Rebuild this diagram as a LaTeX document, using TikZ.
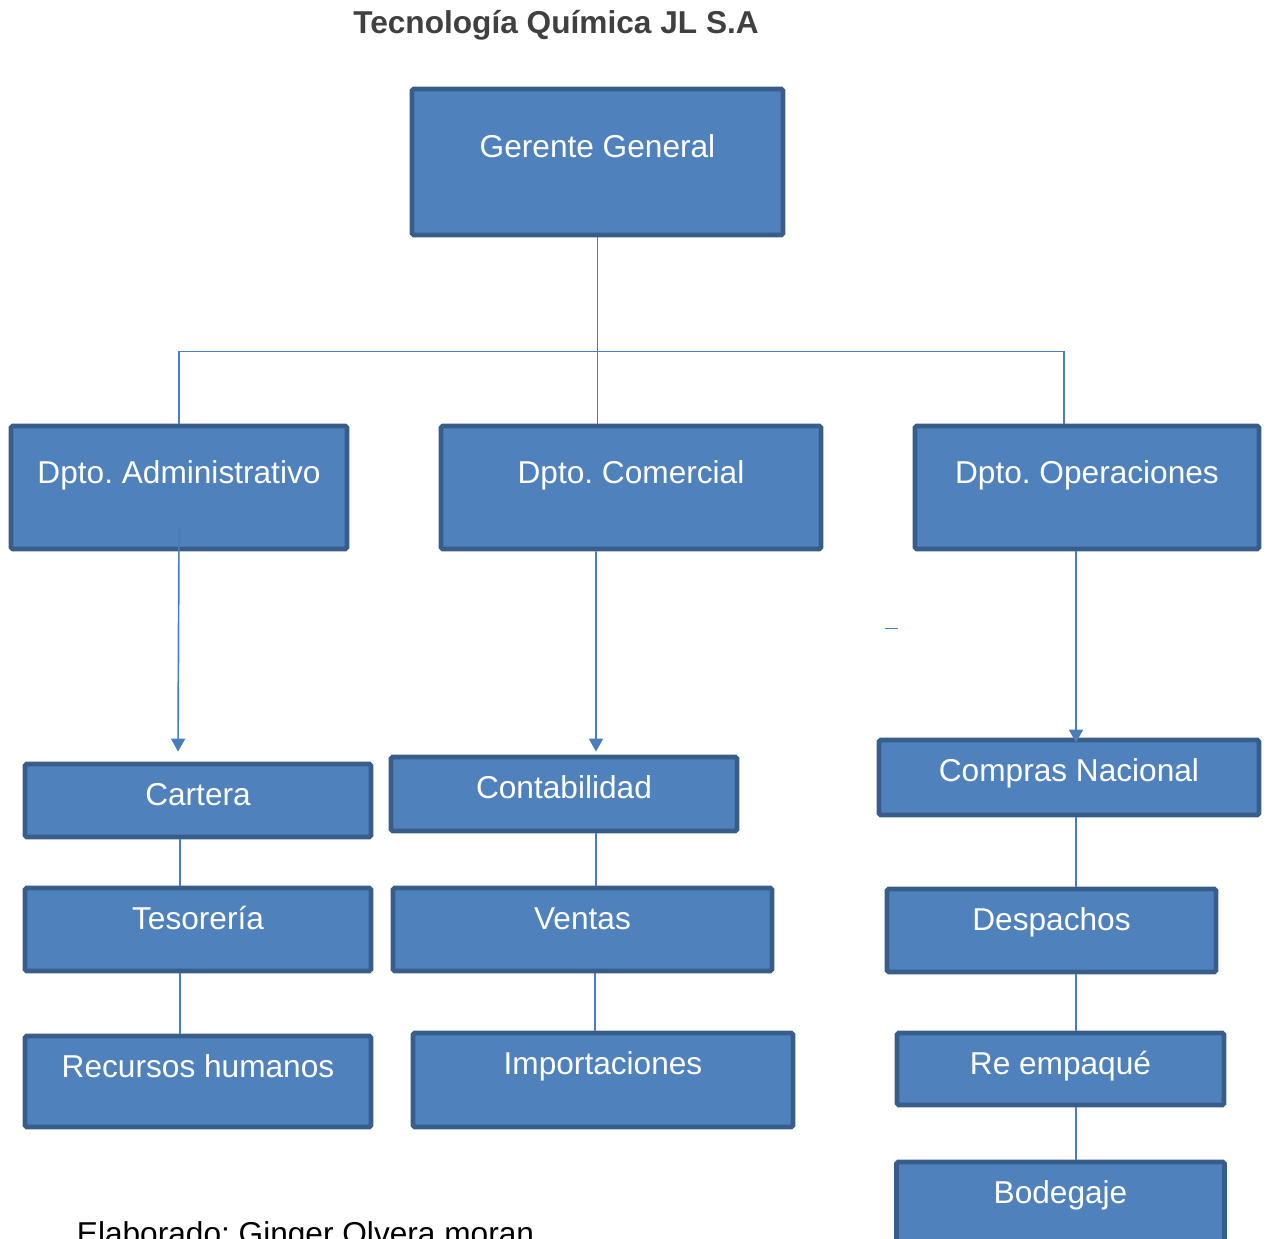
\documentclass[tikz,border=0pt]{standalone}
\usepackage{fontspec}
\setmainfont{Liberation Sans}
\usepackage{tikz}
\usetikzlibrary{shapes,arrows.meta}
\frenchspacing
\definecolor{boxblue}{RGB}{79,129,189}
\definecolor{boxborder}{RGB}{56,93,138}
\definecolor{linkblue}{RGB}{74,126,187}
\definecolor{titlegray}{RGB}{64,64,64}
\tikzstyle{box} = [rectangle, draw=boxborder, fill=boxblue, line width=2.7pt, rounded corners=1pt,
    text=white, font=\fontsize{18}{22}\selectfont, inner ysep=0pt, text height=0.82cm]
\tikzstyle{topbox} = [box, text height=1.36cm, text depth=1.56cm, minimum width=7.42cm]
\tikzstyle{deptbox} = [box, text height=1.14cm, text depth=1.32cm]
\tikzstyle{line} = [draw=linkblue, line width=0.95pt]
\tikzstyle{arrow} = [line, -{Triangle[width=0.28cm,length=0.26cm]}]
\tikzstyle{title} = [text=titlegray, font=\fontsize{18}{22}\selectfont\bfseries]
\tikzstyle{note} = [text=black, font=\fontsize{18}{22}\selectfont]

\begin{document}
\begin{tikzpicture}[node distance = 2cm, auto]
    \useasboundingbox (-11.95,-21.52) rectangle (13.39,3.24);
    % Place nodes
    \node [topbox] (gerente) {Gerente General};
    \node [title, above of=gerente, node distance=2.58cm, xshift=-0.83cm, anchor=base] (title) {Tecnología Química JL S.A};
    \node [deptbox, below of=gerente, node distance=6.51cm, xshift=0.67cm, minimum width=7.6cm] (comercial) {Dpto. Comercial};
    \node [deptbox, left of=comercial, node distance=9.04cm, minimum width=6.72cm] (admin) {Dpto. Administrativo};
    \node [deptbox, right of=comercial, node distance=9.12cm, minimum width=6.88cm] (oper) {Dpto. Operaciones};
    \node [box, below of=admin, node distance=6.26cm, xshift=0.38cm, minimum width=6.92cm, text depth=0.64cm] (cartera) {Cartera};
    \node [box, below of=cartera, node distance=2.58cm, minimum width=6.92cm, text depth=0.84cm] (tesoreria) {Tesorería};
    \node [box, below of=tesoreria, node distance=3.04cm, minimum width=6.92cm, text depth=1.0cm] (recursos) {Recursos humanos};
    \node [box, below of=comercial, node distance=6.13cm, xshift=-1.34cm, minimum width=6.92cm, text depth=0.66cm] (contab) {Contabilidad};
    \node [box, below of=contab, node distance=2.71cm, xshift=0.37cm, minimum width=7.58cm, text depth=0.84cm] (ventas) {Ventas};
    \node [box, below of=ventas, node distance=3.01cm, xshift=0.41cm, minimum width=7.6cm, text depth=1.06cm] (importaciones) {Importaciones};
    \node [box, below of=oper, node distance=5.8cm, xshift=-0.36cm, minimum width=7.6cm, text depth=0.68cm] (compras) {Compras Nacional};
    \node [box, below of=compras, node distance=3.06cm, xshift=-0.35cm, minimum width=6.58cm, text depth=0.84cm] (despachos) {Despachos};
    \node [box, below of=despachos, node distance=2.77cm, xshift=0.18cm, minimum width=6.54cm, text depth=0.62cm] (reempaque) {Re empaqué};
    \node [box, below of=reempaque, node distance=2.7cm, minimum width=6.56cm, text depth=0.86cm] (bodegaje) {Bodegaje};
    \node [note, below of=recursos, node distance=3.25cm, xshift=2.15cm, anchor=base] (elab) {Elaborado: Ginger Olvera moran};

    % Draw edges
    \path [line] (gerente.south) -- (gerente.south |- comercial.north);
    \path [line] (admin.north) -- ++(0,1.44) -| ([xshift=-0.46cm]oper.north);
    \path [arrow, shorten >=0.2cm] ([yshift=0.48cm]admin.south) -- ([xshift=-0.4cm]cartera.north);
    \path [arrow, shorten >=0.06cm] ([xshift=-0.7cm]comercial.south) -- ([xshift=0.64cm]contab.north);
    \path [arrow, shorten >=-0.1cm] ([xshift=-0.22cm]oper.south) -- ([xshift=0.14cm]compras.north);
    \path [line] ([xshift=-0.36cm]cartera.south) -- ([xshift=-0.36cm]cartera.south |- tesoreria.north);
    \path [line] ([xshift=-0.36cm]tesoreria.south) -- ([xshift=-0.36cm]tesoreria.south |- recursos.north);
    \path [line] ([xshift=0.64cm]contab.south) -- ([xshift=0.64cm]contab.south |- ventas.north);
    \path [line] ([xshift=0.25cm]ventas.south) -- ([xshift=0.25cm]ventas.south |- importaciones.north);
    \path [line] ([xshift=0.14cm]compras.south) -- ([xshift=0.14cm]compras.south |- despachos.north);
    \path [line] ([xshift=0.49cm]despachos.south) -- ([xshift=0.49cm]despachos.south |- reempaque.north);
    \path [line] ([xshift=0.31cm]reempaque.south) -- ([xshift=0.31cm]reempaque.south |- bodegaje.north);
    \path [line] ([shift={(-0.56cm,-1.54cm)}]oper.south west) -- ++(0.26,0);
\end{tikzpicture}
\end{document}
